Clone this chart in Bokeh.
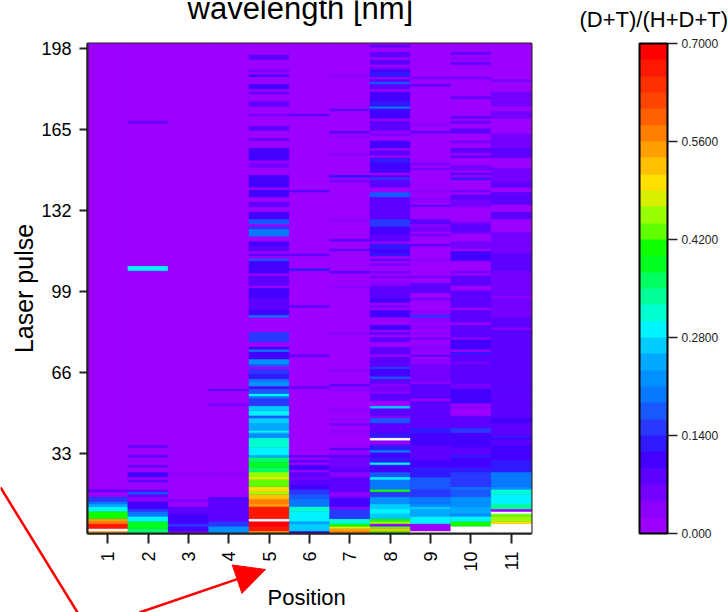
import numpy as np
from bokeh.core.properties import value
from bokeh.embed import file_html
from bokeh.resources import INLINE
from bokeh.plotting import figure
from bokeh.models import (ColumnDataSource, LinearColorMapper, ColorBar, FixedTicker,
                          Arrow, NormalHead)
from bokeh.transform import transform

nan = float("nan")
pulses_total = 200
positions = list(range(1, 12))
y_ticks = [33, 66, 99, 132, 165, 198]
bar_ticks = [0.0, 0.14, 0.28, 0.42, 0.56, 0.70]
bar_labels = ["0.000", "0.1400", "0.2800", "0.4200", "0.5600", "0.7000"]
palette = ["#9c00ff", "#8c00ff", "#7400ff", "#5c00ff", "#4400ff", "#3018ff", "#2838ff", "#1858ff",
           "#0878ff", "#0090ff", "#00a8ff", "#00ccff", "#00f4ff", "#00ffd0", "#00ff98", "#00ff60",
           "#00ff20", "#10ff00", "#60ff00", "#98ff00", "#d8f000", "#ffe000", "#ffc000", "#ffa000",
           "#ff8000", "#ff6000", "#ff4400", "#ff3000", "#ff1800", "#ff0000"]

# runs of (first pulse, last pulse, ratio); anything not listed is 0
col1 = [(1,1,.55),(2,2,nan),(3,4,.66),(5,5,.58),(6,6,.54),(7,9,.41),(10,10,.32),(11,11,.28),(12,12,.25),
        (13,13,.2),(14,15,.14),(18,18,.08)]
col2 = [(168,168,.07),(108,109,.28),(36,36,.07),(32,32,.08),(28,28,.08),(24,25,.1),(22,22,.09),(18,18,.07),
        (17,17,.17),(16,16,.09),(14,15,.03),(11,13,.1),(10,10,.14),(8,9,.2),(6,7,.28),(3,5,.38),(1,2,.37)]
col3 = [(25,25,.04),(14,14,.06),(12,13,.02),(9,11,.09),(5,8,.11),(4,4,.15),(2,3,.11),(1,1,.04)]
col4 = [(59,59,.07),(53,53,.06),(25,25,.03),(9,15,.07),(6,8,.09),(4,5,.14),(1,3,.22)]
col5 = [(194,195,.09),(189,189,.06),(187,187,.11),(182,183,.1),(180,180,.09),(175,176,.07),(171,171,.05),
        (165,166,.09),(161,161,.07),(153,157,.1),(150,151,.06),(142,146,.11),(138,140,.1),(134,135,.07),
        (129,131,.1),(127,128,.17),(126,126,.02),(125,125,.14),(122,124,.19),(118,119,.1),(116,117,.09),
        (114,114,.07),(112,112,.17),(107,111,.1),(102,105,.09),(97,100,.11),(92,96,.09),(90,91,.1),(89,89,.19),
        (79,82,.15),(76,76,.1),(75,75,.2),(72,74,.1),(70,71,.23),(69,69,.17),(66,67,.15),(64,65,.13),(63,63,.2),
        (61,62,.22),(60,60,.1),(58,59,.17),(57,57,.28),(56,56,.19),(53,55,.16),(51,52,.26),(49,50,.29),
        (48,48,.17),(46,47,.27),(43,45,.25),(42,42,.29),(40,41,.22),(36,39,.31),(33,35,.28),(32,32,.25),
        (30,31,.37),(28,29,.39),(26,27,.35),(24,25,.45),(23,23,.47),(20,22,.42),(18,19,.5),(17,17,.46),
        (15,16,.53),(13,14,.58),(12,12,.55),(7,11,.67),(6,6,nan),(4,5,.68),(2,3,.66),(1,1,.55)]
col6 = [(171,171,.07),(140,140,.08),(114,114,.07),(108,108,.12),(93,93,.08),(73,73,.07),(60,60,.07),(32,32,.07),
        (30,30,.08),(27,28,.1),(24,25,.08),(23,23,.05),(21,22,.09),(19,20,.11),(17,18,.14),(15,16,.18),
        (12,14,.2),(10,11,.31),(6,9,.28),(5,5,.24),(2,4,.27),(1,1,.11)]
col7 = [(187,187,.03),(173,173,.07),(164,164,.07),(162,162,.04),(155,155,.04),(146,146,.13),(144,144,.05),
        (128,128,.04),(120,120,.07),(116,116,.07),(107,107,.08),(101,101,.03),(82,82,.03),(67,67,.03),(61,61,.07),
        (59,59,.03),(51,51,.03),(47,47,.03),(45,45,.06),(42,42,.03),(35,35,.07),(33,33,.04),(32,32,.07),(28,31,.05),
        (26,27,.08),(24,25,.04),(18,23,.08),(16,17,.03),(15,15,.08),(12,14,.11),(11,11,.03),(7,10,.15),(5,6,.31),
        (4,4,.41),(3,3,.47),(2,2,.55),(1,1,.58)]
col8 = [(199,199,.08),(195,196,.09),(192,193,.09),(190,190,.06),(189,189,.1),(187,188,.12),(185,185,.07),(184,184,.17),
        (182,183,.08),(177,180,.1),(175,176,.12),(174,174,.19),(170,173,.1),(165,168,.09),(163,163,.05),(158,160,.1),
        (155,156,.08),(152,153,.12),(148,151,.1),(146,146,.08),(145,145,.16),(142,144,.09),(138,139,.17),(134,137,.08),
        (129,133,.09),(126,128,.14),(123,125,.11),(120,122,.09),(117,118,.12),(115,116,.1),(114,114,.13),(112,112,.07),
        (110,110,.05),(107,107,.05),(105,105,.06),(103,103,.03),(102,102,.03),(97,101,.08),(95,96,.1),(93,93,.06),
        (89,91,.11),(84,85,.11),(82,82,.08),(79,80,.07),(74,76,.08),(69,72,.09),(68,68,.16),(65,67,.11),(64,64,.17),
        (63,63,.08),(62,62,.07),(61,61,.03),(59,60,.05),(58,58,.03),(55,57,.09),(52,52,.27),(49,51,.08),(48,48,.03),
        (46,47,.17),(45,45,.09),(43,44,.07),(42,42,.09),(40,41,.12),(39,39,nan),(37,38,.03),(35,36,.12),(34,34,.19),
        (32,33,.11),(30,31,.13),(29,29,.28),(26,28,.11),(24,25,.17),(23,23,.28),(19,22,.19),(18,18,.41),(16,17,.16),
        (13,15,.22),(11,12,.26),(9,10,.3),(7,8,.26),(6,6,.41),(5,5,.46),(4,4,.03),(3,3,.43),(2,2,.53),(1,1,.41)]
col9 = [(186,186,.05),(183,183,.07),(167,167,.04),(164,164,.08),(151,151,.05),(149,149,.05),(140,140,.04),(136,137,.04),
        (134,134,.07),(127,128,.07),(126,126,.03),(124,125,.05),(122,122,.05),(118,118,.08),(112,112,.03),(105,105,.05),
        (99,102,.09),(97,98,.02),(96,96,.06),(90,91,.04),(89,89,.15),(87,88,.03),(84,85,.03),(82,82,.03),(80,80,.05),
        (77,77,.03),(75,76,.03),(73,73,.09),(70,71,.03),(69,69,.05),(65,68,.05),(63,64,.06),(62,62,.03),(60,61,.07),
        (56,59,.09),(55,55,.01),(46,54,.08),(44,45,.09),(42,43,.13),(37,41,.11),(31,36,.09),(28,30,.11),(24,27,.12),
        (19,23,.17),(16,18,.16),(13,15,.19),(12,12,.22),(11,11,.26),(8,10,.25),(5,7,.3),(2,4,0),(1,1,nan)]
col10 = [(196,196,.07),(194,194,.03),(192,192,.07),(186,186,.05),(178,178,.09),(170,170,.07),(168,168,.09),(164,165,.09),
         (160,160,.05),(156,157,.07),(154,154,.07),(149,150,.06),(147,147,.07),(145,145,.12),(140,140,.05),(137,138,.09),
         (134,136,.05),(127,127,.05),(124,126,.07),(123,123,.05),(117,119,.06),(112,115,.11),(107,107,.05),(102,105,.09),
         (99,99,.08),(93,98,.07),(87,91,.09),(81,85,.07),(80,80,.03),(76,79,.1),(74,74,.12),(71,73,.08),(70,70,.05),
         (69,69,.07),(62,68,.09),(60,61,.05),(54,59,.1),(52,52,.03),(50,51,.02),(44,48,.09),(42,43,.14),(36,41,.11),
         (33,35,.09),(32,32,.12),(28,31,.1),(26,27,.12),(22,25,.15),(20,21,.16),(19,19,.19),(16,18,.18),(12,15,.21),
         (9,11,.25),(8,8,.21),(6,7,.29),(4,5,.41),(1,3,nan)]
col11 = [(185,185,.05),(175,180,.05),(170,172,.05),(158,163,.05),(154,157,.07),(144,149,.05),(142,143,.07),(135,139,.08),
         (129,131,.07),(122,123,.05),(115,121,.06),(108,114,.07),(98,107,.05),(97,97,.03),(89,96,.06),(85,88,.08),
         (84,84,.03),(66,83,.07),(63,65,.09),(59,62,.08),(54,58,.07),(48,53,.09),(46,47,.11),(41,45,.07),(40,40,.12),
         (39,39,.1),(37,38,.08),(31,36,.11),(26,30,.13),(20,25,.2),(19,19,.22),(17,18,.31),(13,16,.29),(11,12,.33),
         (10,10,.02),(9,9,nan),(8,8,.43),(6,7,.45),(5,5,.49),(1,4,nan)]
columns = [col1, col2, col3, col4, col5, col6, col7, col8, col9, col10, col11]

left, right, bottom, top, val = [], [], [], [], []
for pos, runs in zip(positions, columns):
    z = np.zeros(pulses_total)
    for first, last, v in runs:
        z[first - 1:last] = v
    start = 0
    for i in range(1, pulses_total + 1):
        same = i < pulses_total and (z[i] == z[start] or (np.isnan(z[i]) and np.isnan(z[start])))
        if not same:
            left.append(pos - 0.5); right.append(pos + 0.5)
            bottom.append(start + 0.5); top.append(i + 0.5); val.append(z[start])
            start = i
src = ColumnDataSource(dict(left=left, right=right, bottom=bottom, top=top, val=val))

mapper = LinearColorMapper(palette=palette, low=0, high=0.7, nan_color="white")
font = "Liberation Sans"

p = figure(width=728, height=612, output_backend="svg", toolbar_location=None,
           x_range=(0.5, 11.5), y_range=(0.5, 200),
           min_border_left=87, min_border_right=197, min_border_top=43, min_border_bottom=79,
           background_fill_color=palette[0], margin=(0, 0, 0, 0))
p.quad(left="left", right="right", bottom="bottom", top="top", source=src,
       fill_color=transform("val", mapper), line_color=transform("val", mapper), line_width=0.4)

p.grid.visible = False
p.outline_line_color = "#222222"
p.outline_line_width = 2
p.xaxis.ticker = FixedTicker(ticks=positions)
p.yaxis.ticker = FixedTicker(ticks=y_ticks)
p.xaxis.major_label_orientation = np.pi / 2
p.yaxis.axis_label = "Laser pulse"
for ax in (p.xaxis[0], p.yaxis[0]):
    ax.axis_label_text_font = font
    ax.axis_label_text_font_style = "normal"
    ax.axis_label_text_color = "black"
    ax.major_label_text_font = font
    ax.major_label_text_font_size = "18px"
    ax.major_label_text_color = "black"
    ax.major_tick_in = 0
    ax.minor_tick_line_color = None
    ax.major_tick_line_color = "#222222"
    ax.major_tick_line_width = 2
    ax.axis_line_color = "#222222"
    ax.axis_line_width = 2
p.xaxis[0].major_tick_out = 10
p.xaxis[0].major_label_standoff = 8
p.yaxis[0].major_tick_out = 8
p.yaxis[0].major_label_standoff = 8
p.yaxis[0].axis_label_standoff = 0
p.yaxis[0].axis_label_text_font_size = "25px"

cb = ColorBar(color_mapper=mapper, ticker=FixedTicker(ticks=bar_ticks),
              major_label_overrides=dict(zip(bar_ticks, bar_labels)),
              width=28, height=490, location=(552, 0), padding=0,
              background_fill_alpha=0, border_line_color=None,
              bar_line_color="black", bar_line_width=2,
              major_tick_out=10, major_tick_in=0, major_tick_line_color="#222222", major_tick_line_width=1.5,
              minor_tick_line_color=None, label_standoff=4,
              major_label_text_font=font, major_label_text_font_size="12px", major_label_text_color="#222222")
p.add_layout(cb)

# transparent layer the size of the page, for what lies outside the plot's frame
q = figure(width=728, height=612, output_backend="svg", toolbar_location=None,
           x_range=(0, 728), y_range=(612, 0), x_axis_type=None, y_axis_type=None,
           min_border=0, background_fill_alpha=0, border_fill_alpha=0, outline_line_color=None,
           margin=(-612, 0, 0, 0))
q.grid.visible = False
q.text(x=[187], y=[8], text=["wavelength [nm]"], text_font=value(font), text_font_size="31px",
       text_color="black", text_baseline="alphabetic")
q.text(x=[579], y=[18.5], text=["(D+T)/(H+D+T)"], text_font=value(font), text_font_size="22px",
       text_color="black", text_baseline="alphabetic")
q.text(x=[267], y=[597], text=["Position"], text_font=value(font), text_font_size="22px",
       text_color="black", text_baseline="alphabetic")
q.add_layout(Arrow(end=None, x_start=0, y_start=487, x_end=77, y_end=612, line_color="red", line_width=2.5))
q.add_layout(Arrow(end=NormalHead(size=30, fill_color="red", line_color="red"),
                   x_start=139, y_start=612, x_end=265, y_end=569, line_color="red", line_width=2.5))

open("out.html", "w").write(file_html([p, q], INLINE))
